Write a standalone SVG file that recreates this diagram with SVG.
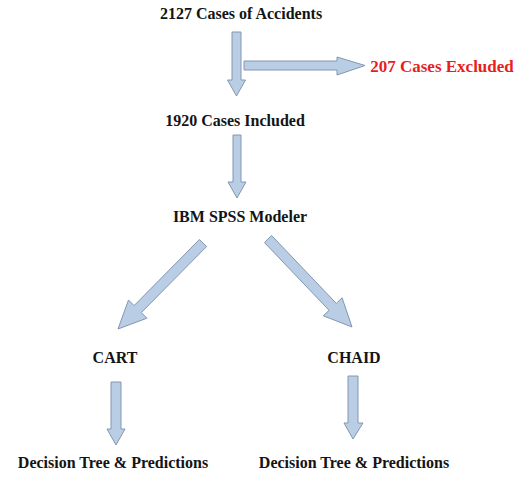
<svg xmlns="http://www.w3.org/2000/svg" width="518" height="483" viewBox="0 0 518 483">
<style>
.t{font-family:"Liberation Serif","Times New Roman",serif;font-weight:bold;font-size:16px;fill:#141414}
.r{fill:#e81e1e;font-size:17px}
.a{fill:#b9cde5;stroke:#8496b0;stroke-width:1;stroke-linejoin:miter}
</style>
<rect width="518" height="483" fill="#ffffff"/>
<g id="n1"><text class="t" x="241" y="19" text-anchor="middle">2127 Cases of Accidents</text></g>
<g id="n2"><text class="t r" x="442" y="72" text-anchor="middle">207 Cases Excluded</text></g>
<g id="n3"><text class="t" x="235" y="126" text-anchor="middle">1920 Cases Included</text></g>
<g id="n4"><text class="t" x="240" y="222" text-anchor="middle">IBM SPSS Modeler</text></g>
<g id="n5"><text class="t" x="115" y="363" text-anchor="middle">CART</text></g>
<g id="n6"><text class="t" x="354" y="363" text-anchor="middle">CHAID</text></g>
<g id="n7"><text class="t" x="113" y="468" text-anchor="middle">Decision Tree &amp; Predictions</text></g>
<g id="n8"><text class="t" x="354" y="468" text-anchor="middle">Decision Tree &amp; Predictions</text></g>
<g id="connectors">
<polygon class="a" points="232,32 241,32 241,80 245.5,80 236.5,96 227.5,80 232,80"/>
<polygon class="a" points="244,61 337,61 337,57 365,65.5 337,75 337,70 244,70"/>
<polygon class="a" points="233,135 241,135 241,182 246,182 237,198 228,182 233,182"/>
<polygon class="a" points="199.4,239.5 206.6,246.5 141.3,312.6 146.9,318.2 118,329 128.5,300 134.1,305.6"/>
<polygon class="a" points="271.6,235.5 336.3,303.4 342.1,297.8 352,327 323.3,315.8 329.1,310.3 264.4,242.5"/>
<polygon class="a" points="111,382 121,382 121,429 125,429 116,445 107,429 111,429"/>
<polygon class="a" points="348,376 358,376 358,423 363,423 353,439 344,423 348,423"/>
</g>
</svg>
